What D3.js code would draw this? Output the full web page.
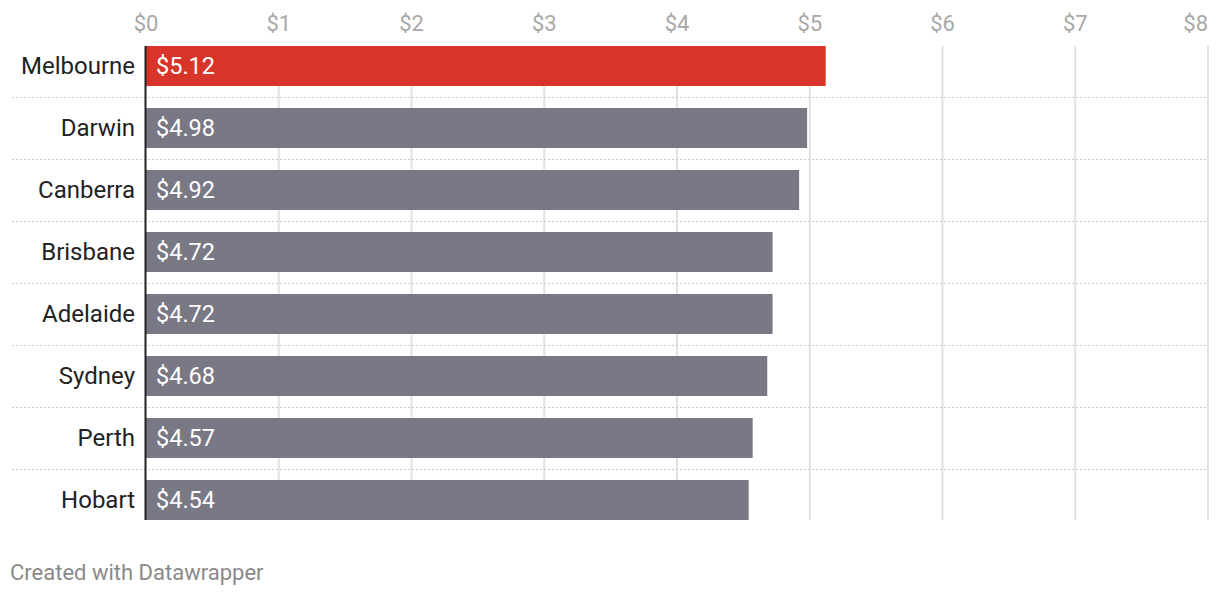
<!DOCTYPE html>
<html><head><meta charset="utf-8">
<script src="https://cdn.jsdelivr.net/npm/d3@7"></script>
<style>
body{margin:0;background:#fff;}
svg{display:block;font-family:Roboto,sans-serif;}
</style></head>
<body>
<svg id="chart" width="1220" height="596"></svg>
<script>
const cities = ["Melbourne","Darwin","Canberra","Brisbane","Adelaide","Sydney","Perth","Hobart"];
const prices = [5.12,4.98,4.92,4.72,4.72,4.68,4.57,4.54];
const highlight = ["Melbourne"];
const tickValues = [0,1,2,3,4,5,6,7,8];
const tickLabels = ["$0","$1","$2","$3","$4","$5","$6","$7","$8"];

const svg = d3.select("#chart");
const x = d3.scaleLinear().domain([0,8]).range([146,1208]);
const y = d3.scaleBand().domain(cities).range([35,531]).paddingInner(22/62).paddingOuter(11/62);

// vertical grid
svg.append("g").selectAll("line").data(tickValues.slice(1)).join("line")
  .attr("x1",d=>x(d)).attr("x2",d=>x(d)).attr("y1",46).attr("y2",520)
  .attr("stroke","#e2e2e2").attr("stroke-width",2);

// separators
svg.append("g").selectAll("line").data(cities.slice(0,-1)).join("line")
  .attr("x1",12).attr("x2",1208)
  .attr("y1",d=>y(d)+y.bandwidth()+11.5).attr("y2",d=>y(d)+y.bandwidth()+11.5)
  .attr("stroke","#c8c8c8").attr("stroke-width",1).attr("stroke-dasharray","2,2");

// tick labels
const last = tickValues.length-1;
svg.append("g").selectAll("text").data(tickValues).join("text")
  .attr("x",d=>x(d)).attr("y",31)
  .attr("text-anchor",(d,i)=>i===last?"end":"middle")
  .attr("font-size",22).attr("fill","#a8a8a8")
  .text((d,i)=>tickLabels[i]);

// bars
svg.append("g").selectAll("rect").data(cities).join("rect")
  .attr("x",x(0)).attr("y",d=>y(d)).attr("height",y.bandwidth())
  .attr("width",(d,i)=>x(prices[i])-x(0))
  .attr("fill",d=>highlight.includes(d)?"#d8352a":"#797885");

// value labels
svg.append("g").selectAll("text").data(cities).join("text")
  .attr("x",x(0)+10).attr("y",d=>y(d)+y.bandwidth()/2).attr("dy","0.35em")
  .attr("font-size",23.5).attr("fill","#fff")
  .text((d,i)=>"$"+prices[i].toFixed(2));

// city labels
svg.append("g").selectAll("text").data(cities).join("text")
  .attr("x",135).attr("y",d=>y(d)+y.bandwidth()/2).attr("dy","0.35em")
  .attr("text-anchor","end").attr("font-size",24).attr("fill","#222")
  .text(d=>d);

// axis line
svg.append("line").attr("x1",x(0)-0.5).attr("x2",x(0)-0.5).attr("y1",46).attr("y2",520)
  .attr("stroke","#222").attr("stroke-width",2);

// footer
svg.append("text").attr("x",10).attr("y",580).attr("font-size",22).attr("fill","#8a8a8a")
  .text("Created with Datawrapper");
</script>
</body></html>
